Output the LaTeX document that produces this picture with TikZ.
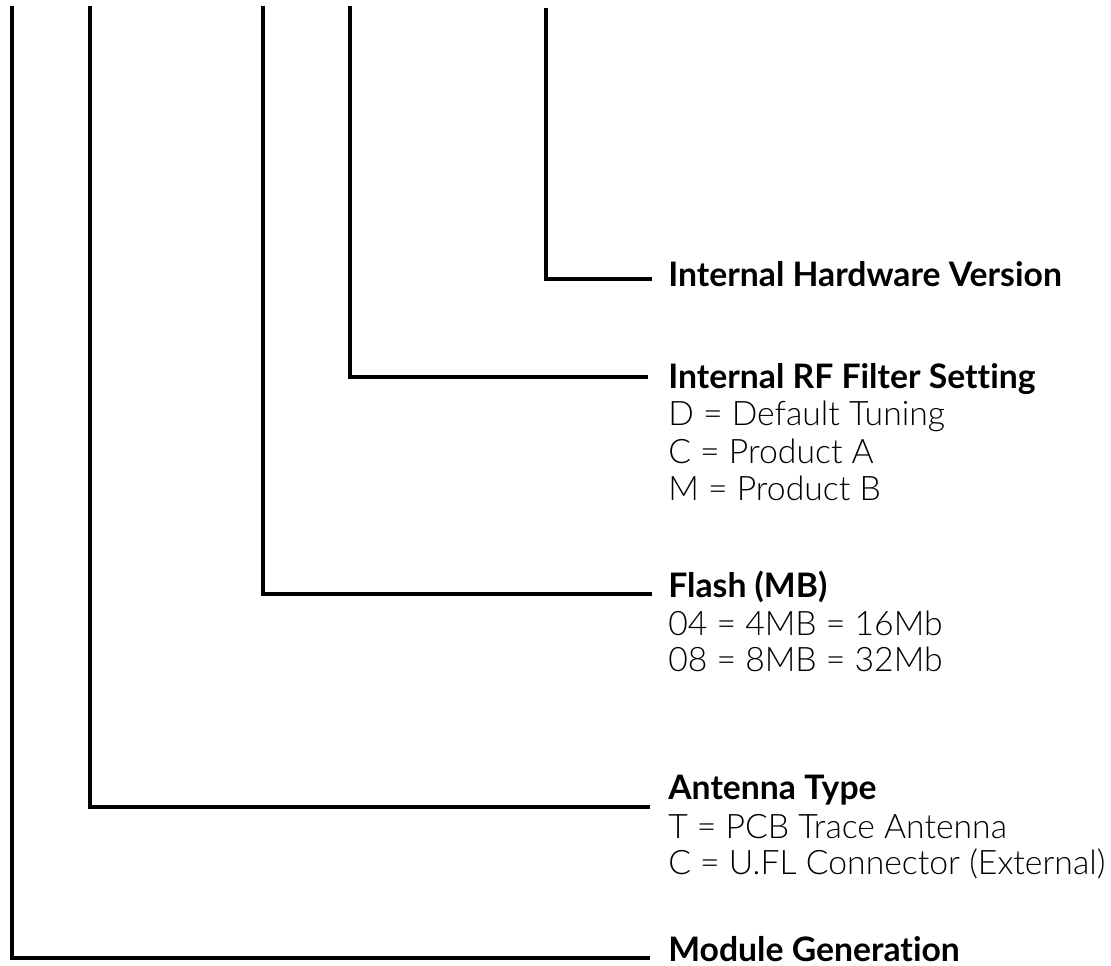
\documentclass[tikz,border=0pt]{standalone}
\usepackage{fontspec}
\setmainfont{Lato}[Ligatures=NoCommon]
\IfFontExistsTF{Lato Light}{\newfontfamily\itemfont{Lato Light}[Ligatures=NoCommon]}{\newfontfamily\itemfont{Lato}[Ligatures=NoCommon]}
\begin{document}
\begin{tikzpicture}[x=0.75pt,y=-0.75pt,
  wire/.style={line width=2.5pt,line cap=rect,line join=miter},
  head/.style={anchor=base west,inner sep=0pt,font=\fontsize{25.3}{30}\selectfont\bfseries},
  item/.style={anchor=base west,inner sep=0pt,font=\fontsize{25.3}{30}\selectfont\itemfont}]
\useasboundingbox (0,0) rectangle (1111,966);
% tops of the lines
\coordinate (t1) at (546,10);
\coordinate (t2) at (350,8);
\coordinate (t3) at (263,8);
\coordinate (t4) at (90,8);
\coordinate (t5) at (12,8);
% free ends of the lines
\coordinate (e1) at (650,279);
\coordinate (e2) at (646,377);
\coordinate (e3) at (650,594);
\coordinate (e4) at (648,807);
\coordinate (e5) at (648,958);
% labels
\node[head] (h1) at (668,287) {Internal Hardware Version};
\node[head] (h2) at (668,388) {Internal RF Filter Setting};
\node[item] (h2a) at (668,426) {D = Default Tuning};
\node[item] (h2b) at (668,463) {C = Product A};
\node[item] (h2c) at (668,500) {M = Product B};
\node[head] (h3) at (668,597) {Flash (MB)};
\node[item] (h3a) at (668,635) {04 = 4MB = 16Mb};
\node[item] (h3b) at (668,671) {08 = 8MB = 32Mb};
\node[head] (h4) at (668,799) {Antenna Type};
\node[item] (h4a) at (668,838) {T = PCB Trace Antenna};
\node[item] (h4b) at (668,874) {C = U.FL Connector (External)};
\node[head] (h5) at (668,961) {Module Generation};
% connectors
\draw[wire] (t1) |- (e1);
\draw[wire] (t2) |- (e2);
\draw[wire] (t3) |- (e3);
\draw[wire] (t4) |- (e4);
\draw[wire] (t5) |- (e5);
\end{tikzpicture}
\end{document}
